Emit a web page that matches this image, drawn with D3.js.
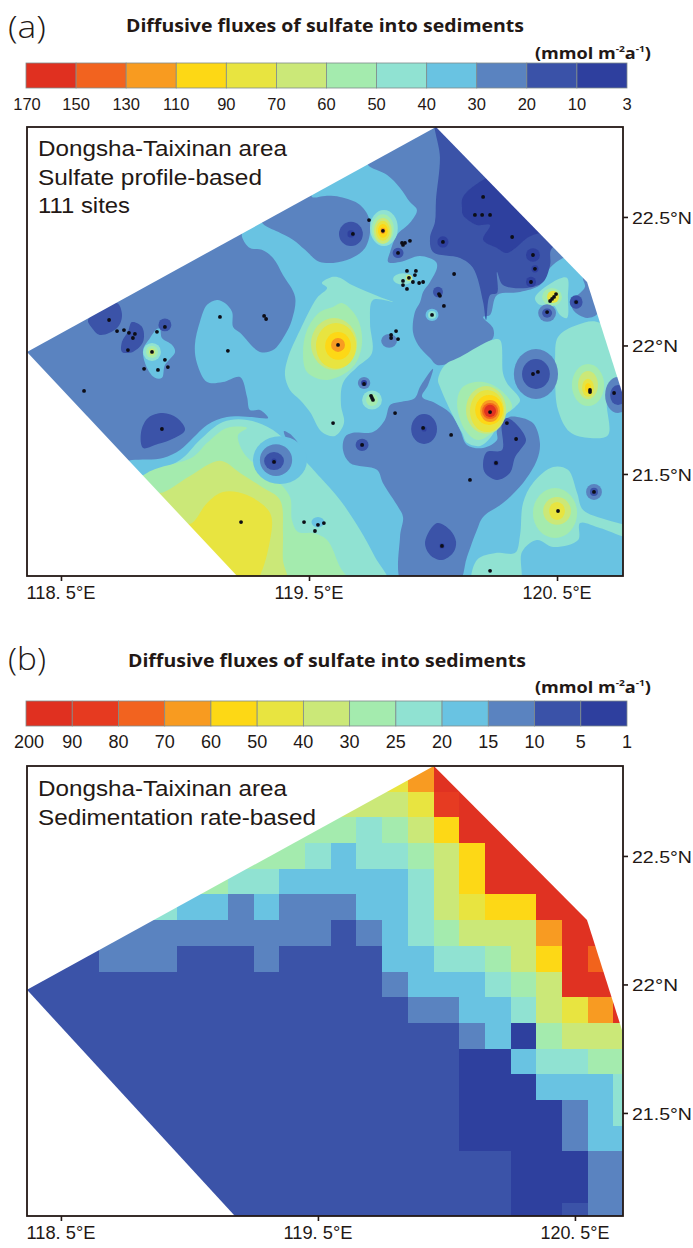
<!DOCTYPE html>
<html><head><meta charset="utf-8">
<script src="https://cdn.jsdelivr.net/npm/d3@7/dist/d3.min.js"></script>
<style>html,body{margin:0;padding:0;background:#fff}svg{display:block}</style>
</head><body><svg id="c" width="693" height="1248"></svg>
<script>
// ---------- shared palette, low flux to high flux ----------
const classColors = ["#2E3F9E","#3A52A8","#5A83C0","#69C3E2","#90E2D2","#A4EBAE","#CBE878","#E8E440","#FDD815","#F89B20","#F2631F","#E03020"];
// ---------- colour bar labels ----------
const legendLabelsA = ["170","150","130","110","90","70","60","50","40","30","20","10","3"];
const legendLimitsA = [10,20,30,40,50,60,70,90,110,130,150];
const legendLabelsB = ["200","90","80","70","60","50","40","30","25","20","15","10","5","1"];
const legendLimitsB = [5,10,15,20,25,30,40,50,60,70,80,90];
const legendColorsB = ["#E03020","#E63A20","#F2631F","#F89B20","#FDD815","#E8E440","#CBE878","#A4EBAE","#90E2D2","#69C3E2","#5A83C0","#3A52A8","#2E3F9E"];
// ---------- axes ----------
const lonTicks = [118.5,119.5,120.5];
const lonTickLabels = ["118. 5°E","119. 5°E","120. 5°E"];
const latTicks = [22.5,22,21.5];
const latTickLabels = ["22.5°N","22°N","21.5°N"];
// ---------- survey outlines (lon, lat) ----------
const outlineA = [[118.363,21.975],[120.012,22.85],[120.621,22.247],[120.762,21.819],[120.766,21.103],[119.21,21.103]];
const outlineB = [[118.368,21.979],[119.951,22.85],[120.547,22.251],[120.683,21.823],[120.687,21.099],[119.177,21.099]];
// ---------- panel (a): contour regions (lon, lat), painted in order over a 30-40 background ----------
const backgroundFluxA = 35;
const westShelf = [[118.335,21.975],[119.23,22.469],[119.23,22.422],[119.262,22.379],[119.31,22.372],[119.355,22.34],[119.395,22.274],[119.444,22.189],[119.431,22.099],[119.403,22.041],[119.355,21.982],[119.302,21.975],[119.222,22.049],[119.194,22.072],[119.19,22.13],[119.161,22.165],[119.129,22.177],[119.089,22.158],[119.06,22.091],[119.04,22.002],[119.048,21.932],[119.089,21.858],[119.153,21.858],[119.222,21.877],[119.25,21.8],[119.262,21.749],[119.302,21.749],[119.335,21.718],[119.262,21.722],[119.169,21.722],[119.089,21.691],[119.032,21.64],[118.98,21.593],[118.911,21.562],[118.786,21.554],[118.738,21.547]];
const northBlob = [[119.294,22.508],[119.512,22.625],[119.512,22.578],[119.565,22.582],[119.625,22.578],[119.706,22.547],[119.746,22.481],[119.726,22.379],[119.653,22.333],[119.544,22.325],[119.484,22.372],[119.435,22.411],[119.375,22.442],[119.315,22.473]];
const eastBlue = [[119.738,22.722],[119.738,22.702],[119.815,22.663],[119.867,22.613],[119.907,22.558],[119.935,22.527],[119.907,22.477],[119.855,22.43],[119.827,22.364],[119.819,22.325],[119.867,22.325],[119.948,22.348],[120.012,22.325],[120.016,22.302],[119.988,22.247],[119.96,22.208],[119.948,22.169],[119.927,22.13],[119.919,22.053],[119.94,22.002],[119.988,21.951],[120.016,21.924],[120.081,21.936],[120.137,21.963],[120.202,22.002],[120.242,22.029],[120.242,22.068],[120.202,22.111],[120.23,22.119],[120.258,22.196],[120.351,22.208],[120.431,22.235],[120.472,22.302],[120.524,22.34],[120.673,22.391],[120.069,22.955],[119.738,22.8]];
const eastNavy = [[120.012,22.897],[120.028,22.73],[120.012,22.566],[120.008,22.481],[119.988,22.418],[120.0,22.364],[120.109,22.34],[120.161,22.302],[120.202,22.169],[120.214,22.099],[120.23,22.196],[120.258,22.204],[120.258,22.286],[120.282,22.235],[120.379,22.224],[120.444,22.247],[120.472,22.313],[120.48,22.379],[120.673,22.43],[120.149,22.916]];
const eastDark = [[120.117,22.535],[120.121,22.578],[120.202,22.644],[120.27,22.663],[120.452,22.449],[120.403,22.43],[120.379,22.418],[120.298,22.36],[120.258,22.379],[120.202,22.411],[120.23,22.469],[120.177,22.469],[120.121,22.508]];
const swMint = [[118.758,21.516],[118.831,21.496],[118.98,21.554],[119.06,21.632],[119.153,21.702],[119.25,21.71],[119.355,21.671],[119.492,21.543],[119.544,21.488],[119.625,21.399],[119.706,21.282],[119.766,21.177],[119.819,21.068],[119.181,21.049],[118.758,21.438]];
const swGreen = [[118.758,21.418],[118.847,21.504],[119.032,21.566],[119.089,21.621],[119.169,21.679],[119.25,21.679],[119.214,21.652],[119.23,21.593],[119.262,21.554],[119.355,21.488],[119.423,21.411],[119.431,21.321],[119.456,21.274],[119.516,21.27],[119.573,21.243],[119.625,21.138],[119.665,21.068],[119.181,21.049]];
const swYellowGreen = [[118.859,21.446],[118.899,21.426],[119.02,21.492],[119.141,21.551],[119.222,21.504],[119.31,21.449],[119.383,21.399],[119.395,21.27],[119.395,21.165],[119.411,21.068],[119.181,21.049]];
const swLemon = [[118.98,21.302],[119.028,21.309],[119.089,21.387],[119.153,21.43],[119.25,21.418],[119.343,21.348],[119.343,21.243],[119.274,21.068],[119.161,21.068]];
const tiltedPatch = [[119.399,21.667],[119.423,21.656],[119.464,21.609],[119.476,21.578],[119.448,21.593],[119.415,21.625]];
const centralMint = [[119.597,22.267],[119.625,22.263],[119.665,22.239],[119.718,22.216],[119.786,22.189],[119.839,22.169],[119.758,22.177],[119.746,22.088],[119.754,21.971],[119.694,21.916],[119.637,21.854],[119.629,21.768],[119.641,21.698],[119.605,21.648],[119.552,21.663],[119.504,21.741],[119.464,21.788],[119.423,21.827],[119.403,21.885],[119.415,21.951],[119.464,22.06],[119.532,22.185],[119.573,22.224],[119.552,22.243]];
const centralGreen = [[119.633,22.165],[119.694,22.107],[119.714,22.01],[119.677,21.916],[119.573,21.866],[119.492,21.897],[119.476,21.971],[119.492,22.06],[119.544,22.13],[119.597,22.15]];
const southBlue = [[120.0,21.909],[119.98,21.846],[119.956,21.8],[120.008,21.776],[120.069,21.737],[120.109,21.671],[120.137,21.613],[120.202,21.601],[120.258,21.632],[120.258,21.671],[120.298,21.718],[120.339,21.722],[120.403,21.698],[120.431,21.621],[120.419,21.554],[120.363,21.465],[120.282,21.387],[120.202,21.333],[120.177,21.282],[120.137,21.177],[120.097,21.068],[119.879,21.068],[119.867,21.255],[119.879,21.333],[119.859,21.372],[119.798,21.465],[119.774,21.516],[119.665,21.543],[119.637,21.593],[119.645,21.644],[119.677,21.66],[119.758,21.663],[119.806,21.71],[119.827,21.768],[119.867,21.78],[119.927,21.796],[119.948,21.839]];
const spotMint = [[120.02,21.866],[120.048,21.924],[120.109,21.955],[120.238,22.021],[120.27,22.021],[120.282,21.893],[120.298,21.854],[120.351,21.788],[120.331,21.761],[120.282,21.722],[120.23,21.64],[120.19,21.609],[120.137,21.621],[120.117,21.66],[120.069,21.749],[120.028,21.839]];
const spotGreen = [[120.097,21.776],[120.121,21.839],[120.202,21.858],[120.282,21.819],[120.319,21.761],[120.282,21.722],[120.242,21.663],[120.181,21.632],[120.129,21.671]];
const armNavy = [[120.202,21.543],[120.218,21.586],[120.278,21.593],[120.278,21.698],[120.298,21.718],[120.339,21.691],[120.375,21.632],[120.351,21.593],[120.331,21.566],[120.31,21.504],[120.258,21.477],[120.21,21.504]];
const southNavy = [[120.016,21.309],[119.968,21.235],[119.988,21.185],[120.036,21.165],[120.081,21.193],[120.093,21.235],[120.069,21.282]];
const seMint = [[120.161,21.068],[120.177,21.165],[120.258,21.193],[120.331,21.193],[120.351,21.263],[120.363,21.387],[120.403,21.465],[120.484,21.527],[120.544,21.516],[120.581,21.426],[120.605,21.36],[120.702,21.321],[120.794,21.29],[120.794,21.255],[120.673,21.29],[120.593,21.309],[120.585,21.243],[120.484,21.216],[120.419,21.243],[120.359,21.197],[120.347,21.068]];
const neMint = [[120.504,22.033],[120.581,22.08],[120.673,22.088],[120.835,21.846],[120.714,21.788],[120.702,21.776],[120.706,21.652],[120.633,21.64],[120.552,21.663],[120.504,21.749],[120.492,21.866],[120.492,21.944]];
const ridgeMint = [[120.411,22.185],[120.484,22.247],[120.54,22.263],[120.544,22.189],[120.54,22.107],[120.512,22.119],[120.484,22.158],[120.431,22.158]];
const cornerBlue = [[120.605,22.267],[120.653,22.294],[120.641,22.216],[120.665,22.126],[120.621,22.107],[120.565,22.138],[120.56,22.177],[120.593,22.204],[120.613,22.228]];
const nwNavyA = [[118.609,22.099],[118.657,22.138],[118.726,22.165],[118.746,22.119],[118.726,22.068],[118.657,22.041],[118.625,22.068]];
const nwNavyB = [[118.786,22.091],[118.827,22.072],[118.831,22.014],[118.79,21.975],[118.746,21.975],[118.746,22.014],[118.77,22.053]];
const westNavy = [[118.831,21.601],[118.823,21.663],[118.851,21.718],[118.911,21.737],[118.968,21.718],[119.0,21.671],[118.94,21.632],[118.879,21.613]];
const westPocket = [[118.887,22.064],[118.859,22.029],[118.831,21.982],[118.847,21.912],[118.879,21.874],[118.907,21.874],[118.919,21.924],[118.96,21.975],[118.948,22.002],[118.907,22.029],[118.899,22.064]];
// region list: name and flux class, painted first to last
const regionNames = [westShelf,northBlob,eastBlue,eastNavy,eastDark,swMint,swGreen,swYellowGreen,swLemon,tiltedPatch,southBlue,centralMint,centralGreen,spotMint,spotGreen,armNavy,southNavy,seMint,neMint,ridgeMint,cornerBlue,nwNavyA,nwNavyB,westNavy,westPocket];
const regionFlux  = [25,25,25,15,6,45,55,65,80,25,25,45,55,45,55,15,15,45,45,45,25,15,15,15,35];
// closed rings around single sites: lon, lat, half-width, half-height (degrees), flux
const ringLon  = [119.601,119.609,119.617,119.617, 119.802,119.798,119.798,119.798,119.798,119.798, 119.669,119.669, 120.04,120.403,120.411,120.395,119.859, 119.996,119.996,120.02,119.879,119.903,119.823,119.722,119.722,119.754,119.754, 119.964,119.964,119.714,119.714, 120.415,120.415, 120.492,120.5,120.5, 120.649,120.649, 120.625,120.625,120.625,120.625, 120.746,120.746, 120.214,120.218,120.226,120.23,120.23,120.23, 120.48,120.484, 120.577,120.577,120.46,120.46, 118.919, 118.867,118.867,118.867, 119.536,119.484, 119.383,119.367,119.359,119.359, 120.254,120.036];
const ringLat  = [22.006,21.998,21.998,22.002, 22.457,22.453,22.446,22.446,22.446,22.446, 22.434,22.434, 22.403,22.352,22.298,22.247,22.36, 22.119,22.119,22.208,22.259,22.263,22.018,21.854,21.854,21.788,21.788, 21.675,21.675,21.613,21.613, 21.889,21.889, 21.348,21.356,21.356, 21.43,21.43, 21.846,21.846,21.835,21.835, 21.807,21.807, 21.749,21.745,21.749,21.745,21.745,21.745, 22.189,22.189, 22.169,22.169,22.126,22.126, 22.08, 21.975,21.975,21.975, 21.313,21.302, 21.554,21.554,21.55,21.55, 21.543,21.22];
const ringWide = [.093,.081,.052,.028, .056,.044,.036,.028,.02,.01, .048,.014, .022,.028,.014,.02,.022, .026,.016,.02,.04,.012,.032,.025,.012,.04,.024, .052,.01,.026,.008, .089,.056, .089,.056,.032, .032,.016, .065,.04,.024,.012, .052,.032, .081,.069,.056,.04,.032,.024, .04,.024, .026,.01,.036,.02, .026, .036,.024,.012, .026,.02, .109,.065,.04,.01, .01,.01];
const ringHigh = [.101,.089,.054,.027, .07,.058,.05,.039,.027,.012, .047,.014, .022,.026,.014,.02,.02, .024,.015,.02,.022,.012,.027,.023,.012,.037,.024, .058,.01,.024,.008, .097,.058, .097,.054,.035, .031,.016, .082,.055,.035,.018, .07,.039, .093,.082,.058,.043,.031,.024, .035,.024, .026,.01,.034,.018, .025, .035,.024,.013, .02,.018, .093,.062,.035,.01, .01,.01];
const ringFlux = [65,80,100,120, 45,55,65,80,100,120, 15,6, 6,6,6,6,15, 35,45,15,45,65,25,25,6,45,55, 15,6,15,6, 25,15, 55,65,80, 25,15, 55,65,80,100, 25,15, 65,80,100,120,140,160, 55,80, 15,6,25,15, 15, 45,55,65, 35,45, 35,25,15,6, 6,6];
// sampling sites
const siteLon = [118.694,118.726,118.754,118.774,118.798,118.79,118.77,118.867,118.887,118.919,118.919,119.141,119.173,119.319,119.327,118.835,118.891,118.931,118.593,118.907,119.226,119.359,119.48,119.536,119.56,119.524,119.597,119.742,119.677,119.798,119.875,119.879,119.887,119.907,119.859,120.04,119.895,119.931,119.927,119.903,119.919,119.879,119.879,119.895,119.944,119.96,120.085,120.024,120.028,120.044,119.996,119.831,119.831,119.851,119.859,119.617,120.202,120.169,120.198,120.23,120.319,120.403,120.411,120.395,120.496,120.488,120.48,120.472,120.46,120.577,119.722,119.75,119.754,119.758,119.847,119.96,119.714,120.073,120.149,120.23,120.298,120.335,120.254,120.036,120.23,120.403,120.423,120.633,120.633,120.73,120.504,120.649];
const siteLat = [22.099,22.056,22.06,22.049,22.045,22.029,21.982,21.975,22.053,22.072,21.944,22.111,21.979,22.115,22.103,21.909,21.905,21.916,21.823,21.675,21.313,21.547,21.313,21.302,21.309,21.278,21.698,22.488,22.434,22.446,22.399,22.391,22.399,22.407,22.36,22.403,22.29,22.29,22.274,22.263,22.247,22.251,22.235,22.22,22.243,22.247,22.278,22.2,22.193,22.154,22.119,22.041,22.029,22.056,22.025,22.002,22.578,22.508,22.508,22.508,22.422,22.352,22.298,22.247,22.2,22.189,22.181,22.173,22.13,22.169,21.85,21.804,21.796,21.788,21.737,21.679,21.613,21.652,21.477,21.741,21.698,21.636,21.543,21.22,21.123,21.889,21.897,21.827,21.819,21.815,21.356,21.43];
// ---------- panel (b): gridded flux on a 0.1 degree mesh ----------
const gridLons = [118.4,118.5,118.6,118.7,118.8,118.9,119.0,119.1,119.2,119.3,119.4,119.5,119.6,119.7,119.8,119.9,120.0,120.1,120.2,120.3,120.4,120.5,120.6,120.7];
const gridLats = [22.8,22.7,22.6,22.5,22.4,22.3,22.2,22.1,22.0,21.9,21.8,21.7,21.6,21.5,21.4,21.3,21.2,21.1];
const gridFlux = [
[45,45,45,45,45,45,45,45,45,45,45,45,45,45,45,65,120,120,120,120,120,120,120,120],
[35,35,35,35,35,35,35,35,35,35,35,35,35,35,35,45,85,120,120,120,120,120,120,120],
[27,27,27,27,27,27,27,27,27,27,27,27,27,22,27,35,55,120,120,120,120,120,120,120],
[27,27,27,27,27,27,27,27,27,27,27,22,17,22,22,27,35,55,120,120,120,120,120,120],
[27,27,27,27,27,27,27,27,22,22,17,17,17,17,17,22,35,55,120,120,120,120,120,120],
[22,22,22,22,22,22,17,17,12,17,12,12,12,17,17,22,35,45,55,55,120,120,120,120],
[12,12,12,12,12,12,12,12,12,12,12,12,7,12,17,22,27,35,35,35,65,120,120,120],
[7,7,7,12,12,12,7,7,7,12,7,7,7,7,17,17,22,22,27,35,55,120,75,120],
[7,7,7,7,7,7,7,7,7,7,7,7,7,7,12,17,17,17,22,27,35,120,120,120],
[7,7,7,7,7,7,7,7,7,7,7,7,7,7,7,12,12,17,17,22,35,45,65,120],
[7,7,7,7,7,7,7,7,7,7,7,7,7,7,7,7,7,12,17,3,27,35,35,35],
[7,7,7,7,7,7,7,7,7,7,7,7,7,7,7,7,7,3,3,17,22,22,27,27],
[7,7,7,7,7,7,7,7,7,7,7,7,7,7,7,7,7,3,3,3,17,17,17,22],
[7,7,7,7,7,7,7,7,7,7,7,7,7,7,7,7,7,3,3,3,3,12,17,22],
[7,7,7,7,7,7,7,7,7,7,7,7,7,7,7,7,7,3,3,3,3,12,17,17],
[7,7,7,7,7,7,7,7,7,7,7,7,7,7,7,7,7,7,7,3,3,3,12,12],
[7,7,7,7,7,7,7,7,7,7,7,7,7,7,7,7,7,7,7,3,3,3,12,12],
[7,7,7,7,7,7,7,7,7,7,7,7,7,7,7,7,7,7,7,3,3,7,12,12]];

// ---------- drawing ----------
const INK = "#231815";
const svg = d3.select("#c");
const defs = svg.append("defs");
defs.append("filter").attr("id","soft").attr("x","-5%").attr("y","-5%").attr("width","110%").attr("height","110%")
  .append("feGaussianBlur").attr("stdDeviation",0.55);

function txt(x,y,s,o={}){
  const t = svg.append("text").attr("x",x).attr("y",y).text(s).attr("fill",INK)
    .attr("font-family",o.family||"'Liberation Sans',Arial,sans-serif")
    .attr("font-size",o.size||17).attr("font-weight",o.weight||400)
    .attr("text-anchor",o.anchor||"start");
  if(o.len) t.attr("textLength",o.len).attr("lengthAdjust","spacingAndGlyphs");
  return t;
}
function header(tag,tagY,titleX,titleY,unitY){
  txt(8,tagY,tag,{size:31,family:"'Open Sans',sans-serif",weight:300,len:38});
  txt(titleX,titleY,"Diffusive fluxes of sulfate into sediments",{size:18.5,weight:700,family:"'Open Sans',sans-serif",len:398});
  const u = svg.append("text").attr("x",535).attr("y",unitY).attr("fill",INK)
    .attr("font-family","'Open Sans',sans-serif").attr("font-weight",700).attr("font-size",16)
    .attr("textLength",116).attr("lengthAdjust","spacingAndGlyphs");
  u.append("tspan").text("(mmol m");
  u.append("tspan").text("-2").attr("font-size",9).attr("dy",-7);
  u.append("tspan").text("a").attr("dy",7);
  u.append("tspan").text("-1").attr("font-size",9).attr("dy",-7);
  u.append("tspan").text(")").attr("dy",7);
}
function colorBar(labels,colors,barY,barH,labelY,size,firstX){
  const pos = d3.scalePoint().domain(labels.map((d,i)=>i)).range([26,627]);
  const g = svg.append("g");
  colors.forEach((c,i)=>{
    g.append("rect").attr("x",pos(i)).attr("y",barY).attr("width",pos(i+1)-pos(i)).attr("height",barH)
      .attr("fill",c).attr("stroke","#7f8c8c").attr("stroke-width",0.8);
  });
  labels.forEach((s,i)=>{
    txt(i===0?firstX:pos(i),labelY,s,{size,anchor:"middle"});
  });
}
function frame(x,y,top,bottom,left,right,labelY,rightLabelX){
  const xAxis = d3.axisBottom(x).tickValues(lonTicks).tickSize(5).tickFormat(()=>"");
  const yAxis = d3.axisRight(y).tickValues(latTicks).tickSize(5).tickFormat(()=>"");
  const ax = svg.append("g").attr("transform",`translate(0,${bottom})`).call(xAxis);
  const ay = svg.append("g").attr("transform",`translate(${right},0)`).call(yAxis);
  [ax,ay].forEach(a=>{a.select(".domain").remove();a.selectAll("line").attr("stroke",INK).attr("stroke-width",1.6);});
  svg.append("rect").attr("x",left).attr("y",top).attr("width",right-left).attr("height",bottom-top)
    .attr("fill","none").attr("stroke",INK).attr("stroke-width",1.8);
  lonTicks.forEach((v,i)=>txt(x(v),labelY,lonTickLabels[i],{size:17.5,anchor:"middle",len:69}));
  latTicks.forEach((v,i)=>txt(rightLabelX,y(v)+7,latTickLabels[i],{size:17,len:[60,46,60][i]}));
}
function note(lines,baselines,lens){
  lines.forEach((s,i)=>txt(38,baselines[i],s,{size:22,len:lens[i]}));
}

// ----- panel a -----
header("(a)",38,126,32,59);
colorBar(legendLabelsA,classColors.slice().reverse(),63,25,110,16.5,27);
{
  const x = d3.scaleLinear().domain([118.363,120.766]).range([27,623]);
  const y = d3.scaleLinear().domain([22.85,21.103]).range([127,576]);
  const color = d3.scaleThreshold().domain(legendLimitsA).range(classColors);
  defs.append("clipPath").attr("id","clipA").append("polygon")
    .attr("points",outlineA.map(p=>[x(p[0]),y(p[1])].join(",")).join(" "));
  const line = d3.line().x(d=>x(d[0])).y(d=>y(d[1])).curve(d3.curveCatmullRomClosed.alpha(0.5));
  const clip = svg.append("g").attr("clip-path","url(#clipA)");
  const map = clip.append("g").attr("filter","url(#soft)");
  map.append("rect").attr("x",x.range()[0]).attr("y",y.range()[0])
     .attr("width",x.range()[1]-x.range()[0]).attr("height",y.range()[1]-y.range()[0]).attr("fill",color(backgroundFluxA));
  map.selectAll("path.region").data(regionNames).join("path").attr("class","region")
     .attr("d",line).attr("fill",(d,i)=>color(regionFlux[i]));
  map.selectAll("ellipse").data(ringLon).join("ellipse")
     .attr("cx",d=>x(d)).attr("cy",(d,i)=>y(ringLat[i]))
     .attr("rx",(d,i)=>x(d+ringWide[i])-x(d))
     .attr("ry",(d,i)=>y(ringLat[i]-ringHigh[i])-y(ringLat[i]))
     .attr("fill",(d,i)=>color(ringFlux[i]));
  map.selectAll("circle").data(siteLon).join("circle")
     .attr("cx",d=>x(d)).attr("cy",(d,i)=>y(siteLat[i])).attr("r",1.9).attr("fill","#0c0c14");
  frame(x,y,127,576,27,623,599,632);
}
note(["Dongsha-Taixinan area","Sulfate profile-based","111 sites"],[156,185,213],[249,224,92]);

// ----- panel b -----
header("(b)",670,128,667,693);
colorBar(legendLabelsB,legendColorsB,701,25,748,18,29);
{
  const x = d3.scaleLinear().domain([118.368,120.687]).range([27,623]);
  const y = d3.scaleLinear().domain([22.85,21.099]).range([766,1216]);
  const color = d3.scaleThreshold().domain(legendLimitsB).range(legendColorsB.slice().reverse());
  defs.append("clipPath").attr("id","clipB").append("polygon")
    .attr("points",outlineB.map(p=>[x(p[0]),y(p[1])].join(",")).join(" "));
  const half = 0.05;
  const map = svg.append("g").attr("clip-path","url(#clipB)").append("g").attr("filter","url(#soft)");
  gridFlux.forEach((row,r)=>{
    map.append("g").attr("shape-rendering","crispEdges").selectAll("rect").data(row).join("rect")
      .attr("x",(d,c)=>Math.round(x(gridLons[c]-half)))
      .attr("y",Math.round(y(gridLats[r]+half)))
      .attr("width",(d,c)=>Math.round(x(gridLons[c]+half))-Math.round(x(gridLons[c]-half)))
      .attr("height",Math.round(y(gridLats[r]-half))-Math.round(y(gridLats[r]+half)))
      .attr("fill",d=>color(d));
  });
  frame(x,y,766,1216,27,623,1239,632);
}
note(["Dongsha-Taixinan area","Sedimentation rate-based"],[796,825],[249,278]);
</script></body></html>
